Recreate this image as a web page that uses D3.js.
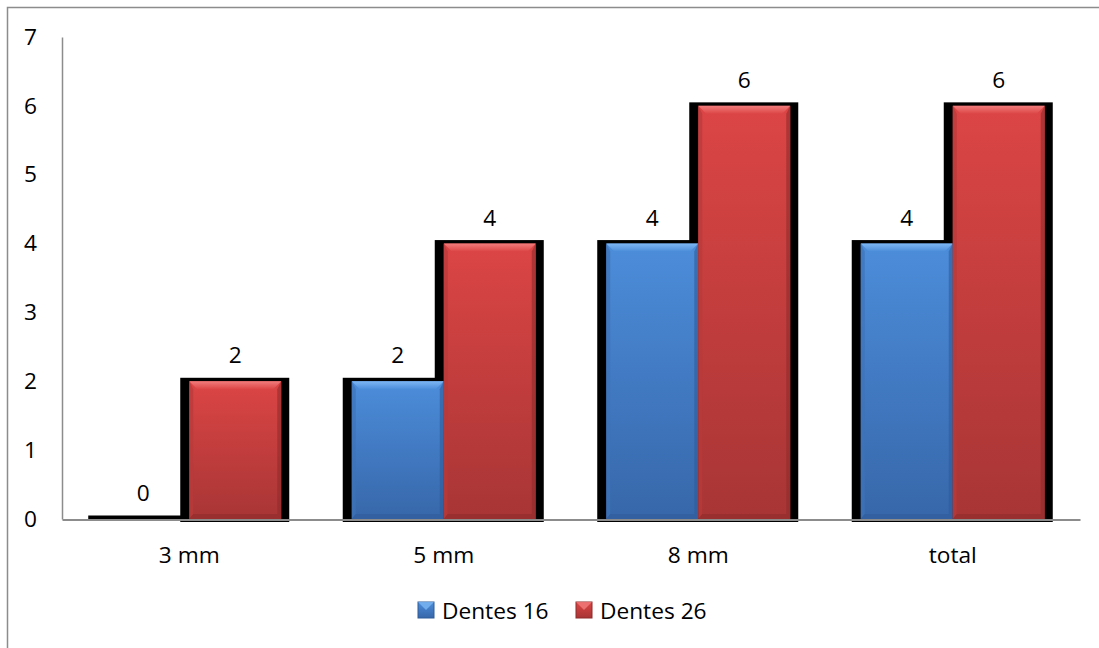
<!DOCTYPE html>
<html>
<head>
<meta charset="utf-8">
<script src="https://cdn.jsdelivr.net/npm/d3@7"></script>
<style>
  html, body { margin: 0; padding: 0; background: #fff; }
  svg { display: block; font-family: "Open Sans", Lato, "Liberation Sans", sans-serif; }
</style>
</head>
<body>
<svg id="chart" width="1099" height="648"></svg>
<script>
// Categories, series and values
const categories = ["3 mm", "5 mm", "8 mm", "total"];
const seriesNames = ["Dentes 16", "Dentes 26"];
const dentes16 = [0, 2, 4, 4];
const dentes26 = [2, 4, 6, 6];
const yTicks = [0, 1, 2, 3, 4, 5, 6, 7];

const seriesValues = [dentes16, dentes26];
const palette = {
  "Dentes 16": { top: "#4c8dda", bottom: "#3767aa", light: "#7cb6f4", dark: "#2f5c99", edge: "#3e74b8" },
  "Dentes 26": { top: "#dc4545", bottom: "#a83535", light: "#f27c7c", dark: "#8f2b2b", edge: "#b83a3a" }
};

const svg = d3.select("#chart");
const W = 1099, H = 648;
const plot = { left: 62, right: 1080, top: 37, bottom: 519 };
const fontSize = 22.7;
const fontFamily = '"Open Sans", Lato, sans-serif';

// outer frame
svg.append("rect")
  .attr("x", 7.5).attr("y", 7.5)
  .attr("width", W + 10).attr("height", H + 10)
  .attr("fill", "#fff").attr("stroke", "#8c8c8c").attr("stroke-width", 1.5);

const y = d3.scaleLinear().domain([0, 7]).range([plot.bottom, plot.top]);
const x0 = d3.scaleBand().domain(categories).range([plot.left, plot.right]);
const x1 = d3.scaleBand().domain(seriesNames).range([0, x0.bandwidth()])
  .paddingInner(0).paddingOuter(0.383);

// gradients
const defs = svg.append("defs");
seriesNames.forEach((s, i) => {
  const c = palette[s];
  const g = defs.append("linearGradient").attr("id", "fill" + i)
    .attr("x1", 0).attr("y1", 0).attr("x2", 0).attr("y2", 1);
  g.append("stop").attr("offset", "0%").attr("stop-color", c.top);
  g.append("stop").attr("offset", "100%").attr("stop-color", c.bottom);
  const t = defs.append("linearGradient").attr("id", "bevel" + i)
    .attr("x1", 0).attr("y1", 0).attr("x2", 0).attr("y2", 1);
  t.append("stop").attr("offset", "0%").attr("stop-color", c.light);
  t.append("stop").attr("offset", "100%").attr("stop-color", c.top);
});

const bars = [];
categories.forEach((cat, ci) => {
  seriesNames.forEach((s, si) => {
    const v = seriesValues[si][ci];
    bars.push({ cat, s, si, v, x: x0(cat) + x1(s), w: x1.bandwidth(), y: y(v) });
  });
});

// dark backing behind each bar
svg.append("g").selectAll("rect").data(bars).join("rect")
  .attr("x", d => d.x - 9)
  .attr("y", d => d.y - 3.5)
  .attr("width", d => d.w + 17)
  .attr("height", d => plot.bottom - d.y + (d.v === 0 ? 3.5 : 6.5))
  .attr("fill", "#000");

// bevelled bar bodies
const bodies = svg.append("g").selectAll("g").data(bars.filter(d => d.v > 0)).join("g");
bodies.append("rect")
  .attr("x", d => d.x).attr("y", d => d.y)
  .attr("width", d => d.w).attr("height", d => plot.bottom - d.y)
  .attr("fill", d => `url(#fill${d.si})`);
// top bevel
bodies.append("polygon")
  .attr("points", d => {
    const b = 8, x = d.x, w = d.w, t = d.y;
    return [[x, t], [x + w, t], [x + w - b, t + b], [x + b, t + b]].join(" ");
  })
  .attr("fill", d => `url(#bevel${d.si})`);
// side bevels
bodies.append("polygon")
  .attr("points", d => {
    const b = 4, x = d.x, t = d.y + 8, bt = plot.bottom - 5;
    return [[x, d.y], [x + b, t], [x + b, bt], [x, plot.bottom]].join(" ");
  })
  .attr("fill", d => palette[d.s].edge).attr("opacity", 0.7);
bodies.append("polygon")
  .attr("points", d => {
    const b = 4, x = d.x + d.w, t = d.y + 8, bt = plot.bottom - 5;
    return [[x, d.y], [x - b, t], [x - b, bt], [x, plot.bottom]].join(" ");
  })
  .attr("fill", d => palette[d.s].dark).attr("opacity", 0.6);
// bottom bevel
bodies.append("polygon")
  .attr("points", d => {
    const b = 5, x = d.x, w = d.w, bo = plot.bottom;
    return [[x, bo], [x + w, bo], [x + w - 4, bo - b], [x + 4, bo - b]].join(" ");
  })
  .attr("fill", d => palette[d.s].dark).attr("opacity", 0.6);

// value labels
svg.append("g").selectAll("text").data(bars).join("text")
  .attr("x", d => d.x + d.w / 2)
  .attr("y", d => d.y - 18)
  .attr("text-anchor", "middle")
  .attr("font-size", fontSize)
  .attr("font-family", fontFamily)
  .attr("fill", "#000")
  .text(d => d.v);

// axes
const yAxis = svg.append("g").attr("transform", `translate(${plot.left},0)`)
  .call(d3.axisLeft(y).tickValues(yTicks).tickSize(0).tickPadding(25).tickFormat(d3.format("d")));
yAxis.select(".domain").attr("stroke", "#8c8c8c").attr("stroke-width", 1.5);
yAxis.selectAll("text").attr("font-size", fontSize).attr("fill", "#000")
  .attr("font-family", fontFamily);

const xAxis = svg.append("g").attr("transform", `translate(0,${plot.bottom + 0.5})`)
  .call(d3.axisBottom(x0).tickSize(0).tickPadding(27));
xAxis.select(".domain").attr("stroke", "#8c8c8c").attr("stroke-width", 2);
xAxis.selectAll("text").attr("font-size", fontSize).attr("fill", "#000")
  .attr("font-family", fontFamily);

// legend
const legendItems = [
  { name: seriesNames[0], si: 0, x: 418 },
  { name: seriesNames[1], si: 1, x: 576 }
];
const lg = svg.append("g").selectAll("g").data(legendItems).join("g")
  .attr("transform", d => `translate(${d.x},602)`);
lg.append("rect").attr("width", 16).attr("height", 16)
  .attr("fill", d => `url(#fill${d.si})`)
  .attr("stroke", d => palette[d.name].dark).attr("stroke-width", 1);
lg.append("polygon").attr("points", "0,0 16,0 8,8")
  .attr("fill", d => palette[d.name].light).attr("opacity", 0.8);
lg.append("text").attr("x", 24).attr("y", 17)
  .attr("font-size", fontSize).attr("font-family", fontFamily).attr("fill", "#000")
  .text(d => d.name);
</script>
</body>
</html>
